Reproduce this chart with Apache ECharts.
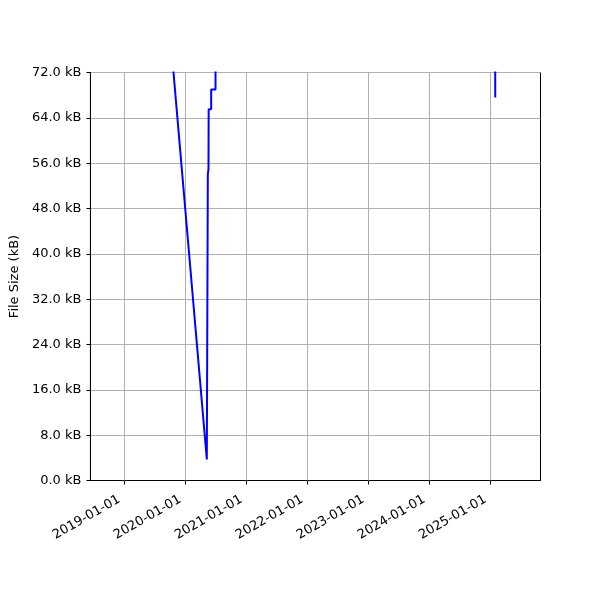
<!DOCTYPE html>
<html><head><meta charset="utf-8">
<script src="https://cdn.jsdelivr.net/npm/echarts@6/dist/echarts.min.js"></script>
<style>html,body{margin:0;padding:0;background:#fff}#c{width:600px;height:600px}</style>
</head><body><div id="c"></div>
<script>
const dates = ['2019-10-01','2020-05-08','2020-05-14','2020-05-18','2020-05-19','2020-06-03','2020-06-03','2020-06-29','2020-06-29','2025-01-28','2025-01-29'];
const sizes = [79, 3.7, 54, 55, 65.5, 65.5, 69, 69, 85, 90, 67.6];
const yearTicks = ['2019-01-01','2020-01-01','2021-01-01','2022-01-01','2023-01-01','2024-01-01','2025-01-01'];
const xMin = '2018-06-11', xMax = '2025-10-27';

const ts = s => Date.parse(s + 'T00:00:00Z');
const pad = n => (n < 10 ? '0' : '') + n;
const fmt = v => { const d = new Date(v); return d.getUTCFullYear() + '-' + pad(d.getUTCMonth()+1) + '-' + pad(d.getUTCDate()); };
const font = 'DejaVu Sans';
const chart = echarts.init(document.getElementById('c'), null, {renderer: 'canvas'});
chart.setOption({
  animation: false,
  grid: {left: 90, right: 59.5, top: 72.5, bottom: 119.5, show: true, borderColor: '#000', borderWidth: 1, backgroundColor: 'transparent'},
  xAxis: {
    type: 'value', min: ts(xMin), max: ts(xMax),
    axisLine: {show: true, lineStyle: {color: '#000'}},
    axisTick: {show: true, length: 4, customValues: yearTicks.map(ts), lineStyle: {color: '#000'}},
    axisLabel: {customValues: yearTicks.map(ts), formatter: fmt, rotate: 30, fontFamily: font, fontSize: 13, color: '#000', margin: 15, padding: [0, 6, 0, 0]},
    splitLine: {show: false}
  },
  yAxis: {
    type: 'value', min: 0, max: 72, interval: 8,
    name: 'File Size (kB)', nameLocation: 'middle', nameGap: 67,
    nameTextStyle: {fontFamily: font, fontSize: 13, color: '#000'},
    axisLine: {show: true, lineStyle: {color: '#000'}},
    axisTick: {show: true, length: 4, lineStyle: {color: '#000'}},
    axisLabel: {formatter: v => v.toFixed(1) + ' kB', fontFamily: font, fontSize: 13, color: '#000', margin: 9},
    splitLine: {show: true, lineStyle: {color: '#b0b0b0', width: 1}}
  },
  series: [{
    type: 'line', clip: true, showSymbol: false, symbol: 'none',
    data: dates.map((d, i) => [ts(d), sizes[i]]),
    lineStyle: {color: '#0000ff', width: 2},
    z: 3,
    markLine: {
      silent: true, symbol: ['none','none'], label: {show: false},
      lineStyle: {color: '#b0b0b0', width: 1, type: 'solid'},
      data: yearTicks.map(t => ({xAxis: ts(t)})),
      z: 1
    }
  }]
});
</script></body></html>
